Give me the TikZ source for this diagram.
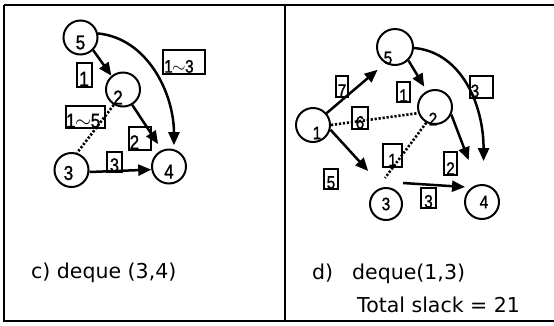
\documentclass[tikz,border=0pt]{standalone}
\usepackage{fontspec}
\setmainfont{DejaVu Sans}
\newfontfamily\digitfont[FakeStretch=0.85, FakeBold=1.2]{Liberation Sans}
\usetikzlibrary{arrows.meta,calc}
\newcommand\digsize[1]{\digitfont\fontsize{#1}{#1}\selectfont}
\newcommand\rng[2]{#1\kern-0.5pt\raisebox{0.5pt}{$\sim$}\kern-0.5pt#2}
\tikzset{
  frame/.style={line width=1.3pt},
  vtx/.style={circle, draw, line width=2pt, minimum size=34pt, inner sep=0pt},
  vtxnum/.style={font=\digsize{18}},
  arr/.style={line width=2.5pt, -{Triangle[length=13pt,width=11pt]}},
  dots/.style={line width=2.6pt, dash pattern=on 2.2pt off 1.8pt},
  tag/.style={draw, line width=2pt, inner sep=0pt},
  tagnum/.style={anchor=south, inner sep=1pt, font=\digsize{#1}},
  tagnum/.default=18,
  captext/.style={font=\fontsize{20.5}{24}\selectfont, anchor=base west, inner sep=0pt}
}
\begin{document}
\begin{tikzpicture}[x=1pt,y=-1pt]
\useasboundingbox (0,0) rectangle (554,325);

% outer frame and the divider between the two panels
\draw[frame] (4,5) -- (554,5);
\draw[frame] (4,5) -- (4,321) -- (554,321);
\draw[frame] (285,5) -- (285,321);

% ---------- panel c ----------
\node[vtx, label={[vtxnum, font=\digsize{20}, yshift=-5pt]center:5}] (c5) at (80.5,37.5) {};
\node[vtx, label={[vtxnum, font=\digsize{20}, xshift=-5pt, yshift=-8pt]center:2}] (c2) at (123,89.5) {};
\node[vtx, label={[vtxnum, font=\digsize{20}, xshift=-3pt, yshift=-3pt]center:3}] (c3) at (71.5,170) {};
\node[vtx, label={[vtxnum, font=\digsize{20}, yshift=-5pt]center:4}] (c4) at (169,166.5) {};

\node[tag, minimum width=15pt, minimum height=24pt, label={[tagnum=21]south:1}] (cb1) at (84,74.5) {};
\node[tag, minimum width=42pt, minimum height=24pt,
      label={[tagnum=18, anchor=south west, inner sep=2pt]south west:\rng13}] (cb13) at (184,62) {};
\node[tag, minimum width=39pt, minimum height=22pt,
      label={[tagnum=20, anchor=south west, inner sep=1pt]south west:\rng15}] (cb15) at (85.5,117) {};
\node[tag, minimum width=22pt, minimum height=23pt,
      label={[tagnum=20, anchor=south west, inner sep=1.5pt]south west:2}] (cb2) at (140,138.5) {};
\node[tag, minimum width=15pt, minimum height=20pt, label={[tagnum=19]south:3}] (cb3) at (114.5,162) {};

\draw[arr] (c5.-45) -- (c2.130);
\draw[arr, shorten >=4pt] (c5.13) .. controls +(50,5) and +(0,-55) .. (c4.74);
\draw[arr, shorten >=7pt] (c2.-59) -- (c4.113);
\draw[arr] ($(c3)+(18,2)$) -- (c4.190);
\draw[dots] (c2.239) -- (c3.72);

% ---------- panel d ----------
\node[vtx, minimum size=36pt, label={[vtxnum, xshift=-7pt, yshift=-11pt]center:5}] (d5) at (395,47) {};
\node[vtx, label={[vtxnum, xshift=-2pt, yshift=-12pt]center:2}] (d2) at (435,107) {};
\node[vtx, label={[vtxnum, xshift=4pt, yshift=-8pt]center:1}] (d1) at (313,125) {};
\node[vtx, minimum size=32pt, label={[vtxnum]center:3}] (d3) at (386,204) {};
\node[vtx, label={[vtxnum, xshift=2pt]center:4}] (d4) at (482,202) {};

\node[tag, minimum width=12pt, minimum height=21pt, label={[tagnum]south:7}] (db7) at (342,86.5) {};
\node[tag, minimum width=13pt, minimum height=20pt, label={[tagnum]south:1}] (db1) at (403.5,92) {};
\node[tag, minimum width=23pt, minimum height=22pt,
      label={[tagnum, anchor=south west, inner sep=1.5pt]south west:3}] (db3) at (481.5,87) {};
\node[tag, minimum width=16pt, minimum height=22pt, label={[tagnum]south:6}] (db6) at (360,118) {};
\node[tag, minimum width=19pt, minimum height=23pt, label={[tagnum]south:1}] (db1b) at (392.5,155) {};
\node[tag, minimum width=14pt, minimum height=20pt, label={[tagnum]south:5}] (db5) at (331,179) {};
\node[tag, minimum width=13pt, minimum height=23pt, label={[tagnum]south:2}] (db2) at (450.5,163.5) {};
\node[tag, minimum width=15pt, minimum height=20pt, label={[tagnum]south:3}] (db3b) at (428.5,198) {};

\draw[arr, shorten >=10pt] (d1.41) -- (d5.239);
\draw[arr, shorten >=22pt] (d1.-15) -- (d3.100);
\draw[arr, shorten >=5pt] (d5.-45) -- (d2.117);
\draw[arr, shorten >=23pt] (d5.-3) .. controls +(47,4) and +(0,-80) .. (d4.85);
\draw[arr, shorten >=26pt] (d2.-25) -- (d4.103);
\draw[arr] ($(d3)+(17,-21)$) -- ($(d4)+(-17,-15)$);
\draw[dots] (d1.0) -- (d2.200);
\draw[dots] (d2.241) -- ($(d3)+(-1,-26)$);

% ---------- captions ----------
\node[captext] (capc) at (31,278) {c) deque (3,4)};
\node[captext] (capd) at (312,279) {d)};
\node[captext] (capdq) at (352,279) {deque(1,3)};
\node[captext] (slack) at (357,312) {Total slack = 21};
\end{tikzpicture}
\end{document}
